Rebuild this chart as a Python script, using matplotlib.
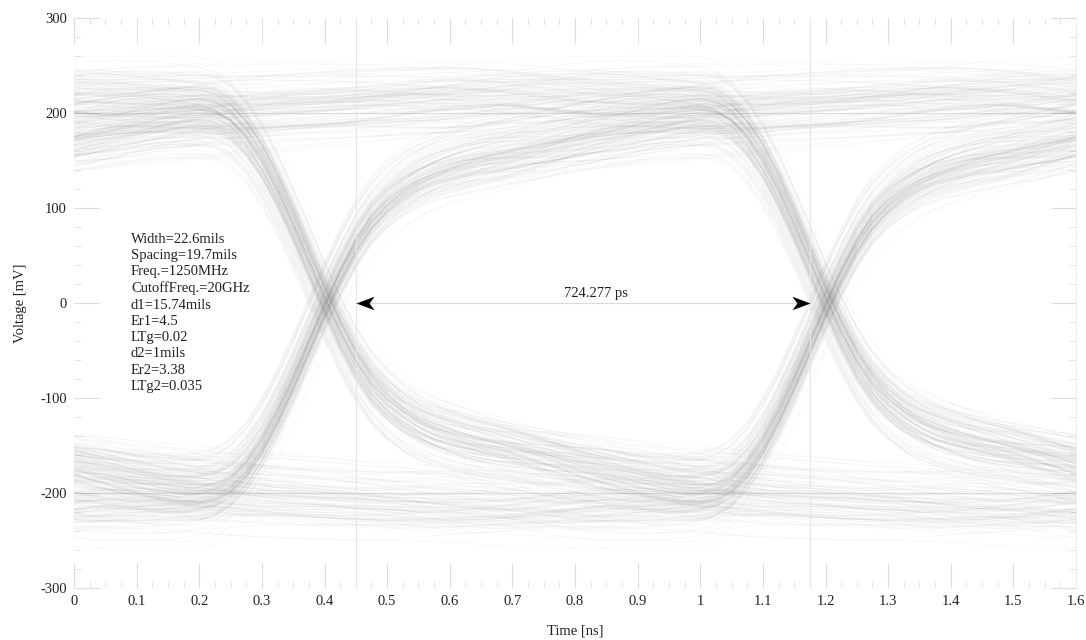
import numpy as np
import matplotlib
matplotlib.use("Agg")
import matplotlib.pyplot as plt
from matplotlib.collections import LineCollection
from matplotlib.path import Path

# ---------------- data ----------------
UI_NS = 0.8            # 1250 MHz -> 0.8 ns unit interval
STEP_NS = 0.025        # sampling step of the step response table
EDGE_START_NS = 0.175  # where an edge starts inside the 2-UI window
AMPLITUDE_MV = 230

# normalised step response read from the falling / rising edges (0.025 ns steps)
STEP_RESPONSE = [
    0.000, 0.003, 0.012, 0.035, 0.075, 0.130, 0.200, 0.280,
    0.365, 0.450, 0.530, 0.600, 0.655, 0.695, 0.725, 0.748,
    0.765, 0.778, 0.789, 0.798, 0.805, 0.811, 0.817, 0.822,
    0.827, 0.832, 0.836, 0.840, 0.844, 0.848, 0.852, 0.855,
    0.858, 0.861, 0.865, 0.869, 0.873, 0.876, 0.880, 0.883,
    0.886, 0.889, 0.892, 0.895, 0.898, 0.901, 0.903, 0.906,
    0.908, 0.911, 0.913, 0.915, 0.918, 0.920, 0.922, 0.924,
    0.926, 0.928, 0.930, 0.932, 0.934, 0.936, 0.938, 0.939,
    0.941, 0.943, 0.944, 0.946, 0.948, 0.949, 0.951, 0.952,
    0.954, 0.955, 0.957, 0.958, 0.959, 0.961, 0.962, 0.963,
    0.964, 0.966, 0.967, 0.968, 0.969, 0.970, 0.971, 0.972,
    0.973, 0.974, 0.975, 0.976, 0.977, 0.978, 0.979, 0.980,
    0.981,
]

# small delayed echoes of the signal (line discontinuities)
REFLECTION_DELAY_NS = [0.425, 1.275, 2.675]
REFLECTION_GAIN = [0.03, -0.025, 0.02]

# coupled neighbour lines (same pattern, other bit offset / phase)
AGGRESSOR_BIT_OFFSET = [37, 91, 150]
AGGRESSOR_DELAY_NS = [0.375, 0.6, 0.175]
AGGRESSOR_COUPLING = [0.06, -0.048, 0.035]

BITS = ("1011001110001011110100001101101010011100100011111001011000010110"
        "1001110110100011001010111100100010111001101010001111011000010011"
        "1010110110010000111101101001100010110111100001101001011100011011"
        "0101110001001011001101110000101011101001111000110100101101100010"
        "1110110011000101001111101000110110010100001110111010010011010110"
        "0011101100101101000111100110101100011000111010110010111011001001"
        "1100101011010011100010111101001011000110111001010001011101101001"
        "0110001111010010100111011000101110010110100110001011101011100101")

REF_LEVELS = [200, -200]
CURSOR_X = [0.45, 1.175]
MEASURE_LABEL = "724.277 ps"
MEASURE_LABEL_X = 0.833
PARAMS = ["Width=22.6mils", "Spacing=19.7mils", "Freq.=1250MHz",
          "CutoffFreq.=20GHz", "d1=15.74mils", "Er1=4.5", "LTg=0.02",
          "d2=1mils", "Er2=3.38", "LTg2=0.035"]

X_TICKS = [0, 0.1, 0.2, 0.3, 0.4, 0.5, 0.6, 0.7, 0.8, 0.9, 1.0,
           1.1, 1.2, 1.3, 1.4, 1.5, 1.6]
X_TICK_LABELS = ["0", "0.1", "0.2", "0.3", "0.4", "0.5", "0.6", "0.7", "0.8",
                 "0.9", "1", "1.1", "1.2", "1.3", "1.4", "1.5", "1.6"]
Y_TICKS = [300, 200, 100, 0, -100, -200, -300]
Y_TICK_LABELS = ["300", "200", "100", "0", "-100", "-200", "-300"]
X_RANGE = (0, 1.6)
Y_RANGE = (-300, 300)

# ---------------- build eye traces ----------------
spu = int(round(UI_NS / STEP_NS))
S = np.array(STEP_RESPONSE)
S_ext = np.concatenate([S, np.full(spu, S[-1])])
S_del = np.concatenate([np.zeros(spu), S])
pulse = S_ext - S_del
bits = np.array([1.0 if c == "1" else -1.0 for c in BITS])


def line_wave(b):
    imp = np.zeros(len(b) * spu)
    imp[::spu] = b
    return AMPLITUDE_MV * np.convolve(imp, pulse)[:len(imp)]


def delayed(w, d_ns):
    k = int(round(d_ns / STEP_NS))
    out = np.zeros_like(w)
    out[k:] = w[:len(w) - k]
    return out


main = line_wave(bits)
wave = main.copy()
for d, g in zip(REFLECTION_DELAY_NS, REFLECTION_GAIN):
    wave += g * delayed(main, d)
for off, d, c in zip(AGGRESSOR_BIT_OFFSET, AGGRESSOR_DELAY_NS, AGGRESSOR_COUPLING):
    wave += c * delayed(line_wave(np.roll(bits, off)), d)

win_len = int(round((X_RANGE[1] - X_RANGE[0]) / STEP_NS)) + 1
offset = int(round(EDGE_START_NS / STEP_NS))
t = X_RANGE[0] + np.arange(win_len) * STEP_NS
mem = int(np.ceil((len(pulse) + max(REFLECTION_DELAY_NS) / STEP_NS) / spu)) + 2
segments = []
for k0 in range(mem, len(bits)):
    start = k0 * spu - offset
    if start + win_len > len(wave):
        break
    segments.append(np.column_stack([t, wave[start:start + win_len]]))

# ---------------- figure ----------------
plt.rcParams["font.family"] = ["Liberation Serif", "DejaVu Serif"]
fig = plt.figure(figsize=(10.86, 6.40), dpi=100)
ax = fig.add_axes([74 / 1086, 1 - 588 / 640, 1002 / 1086, 570 / 640])

lc = LineCollection(segments, colors=[(0.5, 0.5, 0.5, 0.042)], linewidths=0.8)
ax.add_collection(lc)
for lvl in REF_LEVELS:
    ax.plot(X_RANGE, [lvl, lvl], color=(0.55, 0.55, 0.55, 0.28), lw=0.8)

for cx in CURSOR_X:
    ax.axvline(cx, color="#e6e6e6", lw=0.8)
ax.plot(CURSOR_X, [0, 0], color="#dadada", lw=0.8)

stealth_left = Path([(0, 0), (2, 0.75), (1.45, 0), (2, -0.75), (0, 0)],
                    [Path.MOVETO, Path.LINETO, Path.LINETO, Path.LINETO, Path.CLOSEPOLY])
stealth_right = Path([(0, 0), (-2, 0.75), (-1.45, 0), (-2, -0.75), (0, 0)],
                     [Path.MOVETO, Path.LINETO, Path.LINETO, Path.LINETO, Path.CLOSEPOLY])
ax.plot([CURSOR_X[0]], [0], marker=stealth_left, ms=26, color="black", mew=0)
ax.plot([CURSOR_X[1]], [0], marker=stealth_right, ms=26, color="black", mew=0)
ax.text(MEASURE_LABEL_X, 3, MEASURE_LABEL, ha="center", va="bottom",
        fontsize=10.5, color="#222222")

ax.text(0.091, 74, "\n".join(PARAMS), ha="left", va="top", fontsize=10.5,
        linespacing=1.325, color="#222222")

ax.set_xlim(*X_RANGE)
ax.set_ylim(*Y_RANGE)
ax.set_xticks(X_TICKS)
ax.set_xticklabels(X_TICK_LABELS)
ax.set_yticks(Y_TICKS)
ax.set_yticklabels(Y_TICK_LABELS)
ax.set_xticks(np.arange(0, 1.6001, 0.025), minor=True)
ax.set_yticks(np.arange(-300, 300.1, 20), minor=True)
ax.tick_params(which="major", direction="in", length=18, width=0.8, color="#dcdcdc",
               top=True, right=True, labelsize=10.5, labelcolor="#222222", pad=5)
ax.tick_params(which="minor", direction="in", length=5, width=0.6, color="#e0e0e0",
               top=True, right=True)
for side in ["left", "top", "bottom"]:
    ax.spines[side].set_visible(False)
ax.spines["right"].set_color("#eeeeee")

ax.set_xlabel("Time [ns]", fontsize=10.5, color="#222222", labelpad=12)
ax.set_ylabel("Voltage [mV]", fontsize=10.5, color="#222222", labelpad=10)

fig.savefig("out.png", dpi=100)
